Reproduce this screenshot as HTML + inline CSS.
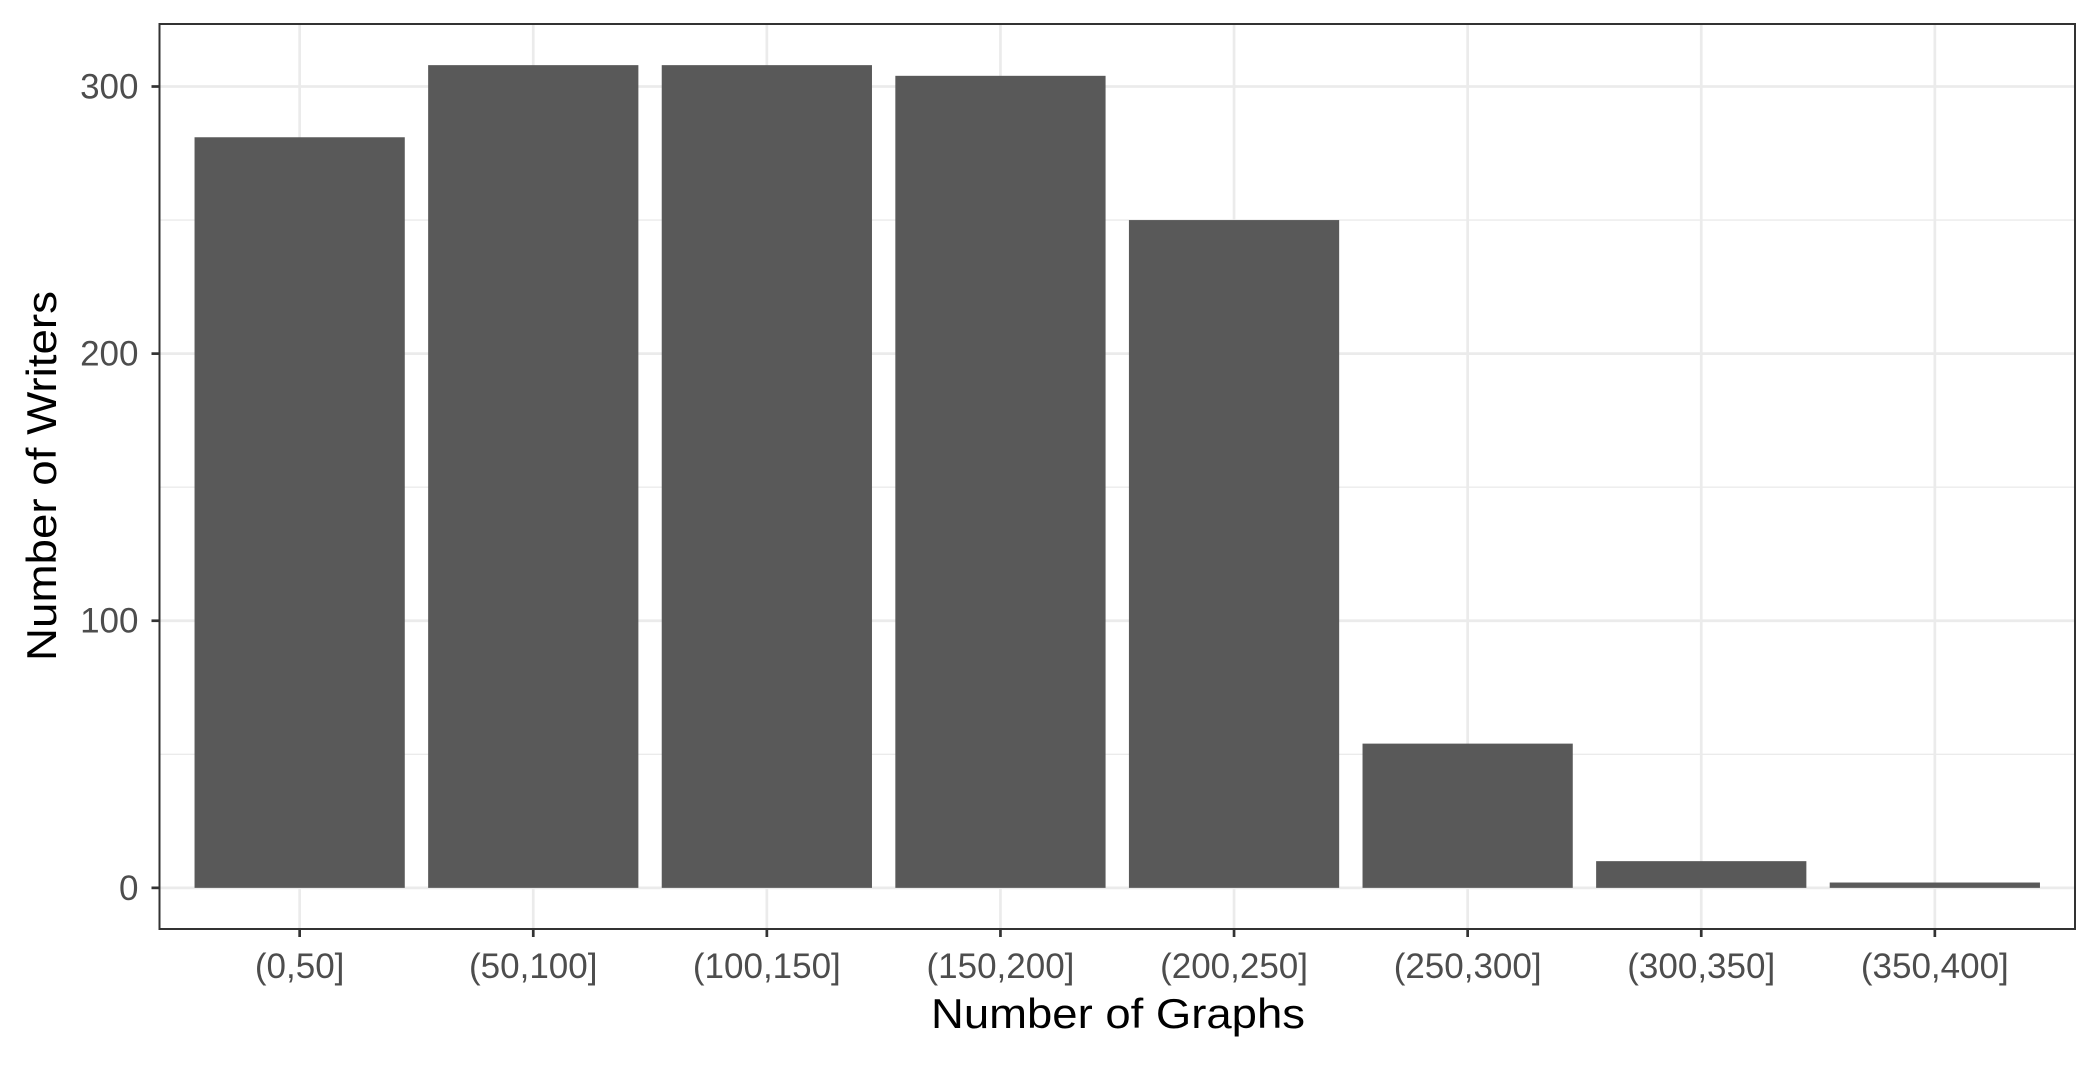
<!DOCTYPE html>
<html><head><meta charset="utf-8"><style>
html,body{margin:0;padding:0;background:#fff;}
svg text{font-family:"Liberation Sans",sans-serif;}
</style></head><body>
<svg id="chart" width="2100" height="1062" xmlns="http://www.w3.org/2000/svg">
<rect width="2100" height="1062" fill="#fff"/>
<g id="grid"></g>
<g id="bars"></g>
<rect x="159.5" y="24" width="1915.5" height="905" fill="none" stroke="#333" stroke-width="2"/>
<g id="axes"></g>
<text x="1118" y="1028" font-size="42" text-anchor="middle" fill="#000" textLength="374" lengthAdjust="spacingAndGlyphs">Number of Graphs</text>
<text transform="translate(56,476) rotate(-90)" font-size="42" text-anchor="middle" fill="#000" textLength="370" lengthAdjust="spacingAndGlyphs">Number of Writers</text>
</svg>
<script>
const categories = ["(0,50]","(50,100]","(100,150]","(150,200]","(200,250]","(250,300]","(300,350]","(350,400]"];
const counts = [281,308,308,304,250,54,10,2];
const yTicks = [0,100,200,300];
const yMinor = [50,150,250];

const NS="http://www.w3.org/2000/svg";
const L=159.5,R=2075,T=24,B=929;
const yMax=Math.max(...counts);
const yLo=-0.05*yMax, yHi=yMax*1.05;
const y=v=>B-(v-yLo)/(yHi-yLo)*(B-T);
const n=categories.length;
const step=(R-L)/(n-1+1.2);
const x=i=>L+step*(0.6+i);
function mk(tag,attrs,parent){const e=document.createElementNS(NS,tag);for(const k in attrs)e.setAttribute(k,attrs[k]);parent.appendChild(e);return e;}
const grid=document.getElementById('grid'),bars=document.getElementById('bars'),axes=document.getElementById('axes');
yMinor.forEach(v=>{const l=mk('line',{x1:L,x2:R,y1:y(v),y2:y(v),stroke:'#ebebeb','stroke-width':1.3},grid);

});
yTicks.forEach(v=>{const l=mk('line',{x1:L,x2:R,y1:y(v),y2:y(v),stroke:'#ebebeb','stroke-width':2.7},grid);


const t=mk('line',{x1:L-8,x2:L,y1:y(v),y2:y(v),stroke:'#333','stroke-width':2.7},axes);


const tx=mk('text',{x:L-21,y:y(v)+12,'font-size':35,'text-anchor':'end',fill:'#4d4d4d'},axes);
tx.textContent=v;

});
categories.forEach((c,i)=>{const cx=x(i);
const g=mk('line',{x1:cx,x2:cx,y1:T,y2:B,stroke:'#ebebeb','stroke-width':2.7},grid);


const bw=step*0.9;
const b=mk('rect',{x:cx-bw/2,y:y(counts[i]),width:bw,height:y(0)-y(counts[i]),fill:'#595959'},bars);


const t=mk('line',{x1:cx,x2:cx,y1:B,y2:B+8,stroke:'#333','stroke-width':2.7},axes);


const tx=mk('text',{x:cx,y:B+49,'font-size':35,'text-anchor':'middle',fill:'#4d4d4d'},axes);
tx.textContent=c;

});
</script>
</body></html>
